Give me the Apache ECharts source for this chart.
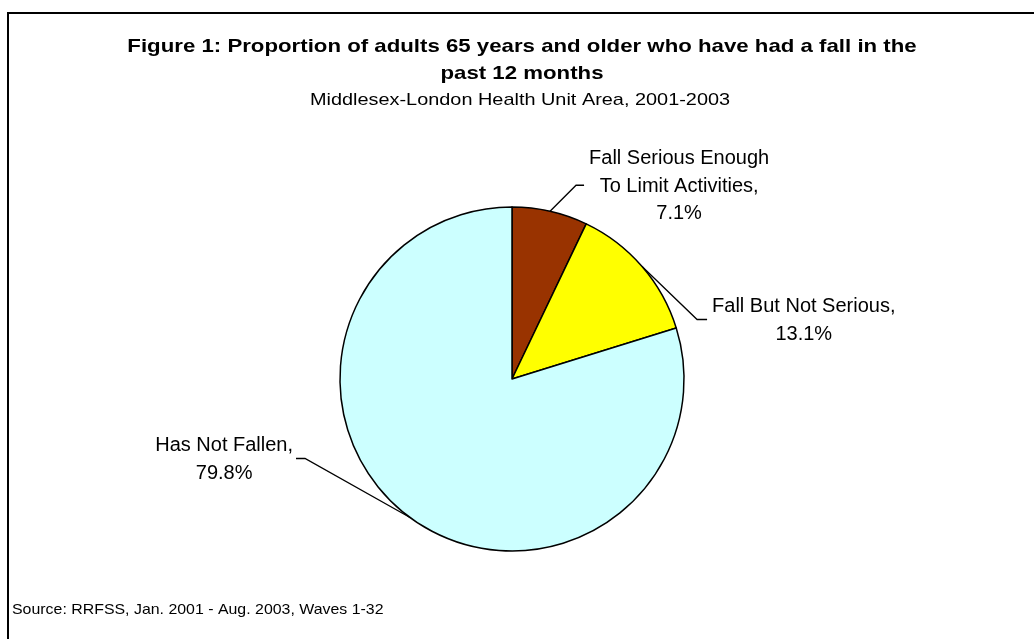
<!DOCTYPE html>
<html>
<head>
<meta charset="utf-8">
<title>Falls among adults 65+</title>
<script src="https://cdn.jsdelivr.net/npm/echarts@6/dist/echarts.min.js"></script>
<style>
  html, body { margin: 0; padding: 0; background: #fff; }
  #chart { width: 1034px; height: 639px; }
</style>
</head>
<body>
<div id="chart"></div>
<script>
// Survey results: share of adults 65+ by fall status in the past 12 months
const categories = [
  'Fall Serious Enough\nTo Limit Activities',
  'Fall But Not Serious',
  'Has Not Fallen'
];
const values = [7.1, 13.1, 79.8];
const sliceColors = ['#993300', '#FFFF00', '#CCFFFF'];

const titleText = 'Figure 1: Proportion of adults 65 years and older who have had a fall in the\npast 12 months';
const subtitleText = 'Middlesex-London Health Unit Area, 2001-2003';
const sourceText = 'Source: RRFSS, Jan. 2001 - Aug. 2003, Waves 1-32';

// Leader line routing per slice: offset from slice edge to the bend,
// horizontal run, and which side the label sits on.
const leaders = [
  { dx: 26, dy: -26, run: 8, side: 1, gap: 5 },
  { dx: 55, dy: 53, run: 10, side: 1, gap: 5 },
  { dx: -105, dy: -59, run: 9, side: -1, gap: 3 }
];

const FONT = '"Liberation Sans", Arial, sans-serif';
// Heading text is set slightly wide
const WIDE = 1.17;

const chart = echarts.init(document.getElementById('chart'), null, { renderer: 'canvas' });

chart.setOption({
  animation: false,
  backgroundColor: '#ffffff',
  graphic: [
    {
      type: 'rect',
      shape: { x: 8, y: 13, width: 1100, height: 700 },
      style: { fill: 'none', stroke: '#000', lineWidth: 2 },
      silent: true
    },
    {
      type: 'text',
      x: 522, y: 60, scaleX: WIDE,
      style: {
        text: titleText, x: 0, y: 0, textAlign: 'center', textVerticalAlign: 'middle',
        font: 'bold 19px ' + FONT, lineHeight: 27, fill: '#000'
      }
    },
    {
      type: 'text',
      x: 520, y: 100, scaleX: WIDE,
      style: {
        text: subtitleText, x: 0, y: 0, textAlign: 'center', textVerticalAlign: 'middle',
        font: '17px ' + FONT, fill: '#000'
      }
    },
    {
      type: 'text',
      x: 12, y: 610, scaleX: 1.06,
      style: {
        text: sourceText, x: 0, y: 0, textAlign: 'left', textVerticalAlign: 'middle',
        font: '15px ' + FONT, fill: '#000'
      }
    }
  ],
  series: [{
    type: 'pie',
    center: [512, 379],
    radius: 172,
    startAngle: 90,
    clockwise: true,
    avoidLabelOverlap: false,
    data: categories.map((name, i) => ({
      name: name,
      value: values[i],
      itemStyle: { color: sliceColors[i] }
    })),
    itemStyle: { borderColor: '#000', borderWidth: 1.5 },
    label: {
      show: true,
      position: 'outside',
      formatter: p => p.name + ',\n' + p.value.toFixed(1) + '%',
      fontFamily: FONT,
      fontSize: 20,
      lineHeight: 27.5,
      color: '#000',
      align: 'center'
    },
    labelLine: {
      show: true,
      lineStyle: { color: '#000', width: 1.3 }
    },
    labelLayout: function (p) {
      const o = leaders[p.dataIndex];
      const a = p.labelLinePoints[0];
      const bend = [a[0] + o.dx, a[1] + o.dy];
      const end = [bend[0] + o.side * o.run, bend[1]];
      const w = p.labelRect.width;
      return {
        x: end[0] + o.side * (o.gap + w / 2),
        y: end[1] + 1,
        align: 'center',
        verticalAlign: 'middle',
        labelLinePoints: [a, bend, end]
      };
    },
    emphasis: { disabled: true }
  }]
});
</script>
</body>
</html>
